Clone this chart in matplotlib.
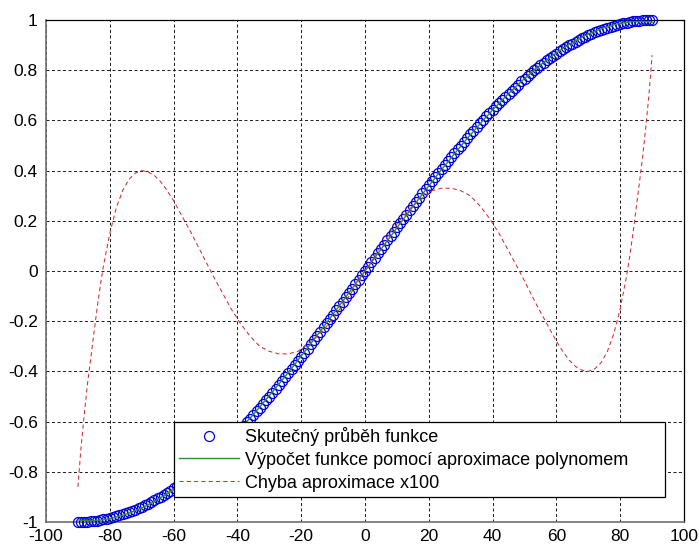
import numpy as np
import matplotlib.pyplot as plt

plt.rcParams['font.family'] = ['Liberation Sans', 'DejaVu Sans']
plt.rcParams['axes.unicode_minus'] = False

# angle in degrees, sampled every degree
uhel = np.arange(-90, 91)

# real function values
skutecny = np.array([
    -1.000, -1.000, -0.999, -0.999, -0.998, -0.996, -0.995, -0.993, -0.990, -0.988,
    -0.985, -0.982, -0.978, -0.974, -0.970, -0.966, -0.961, -0.956, -0.951, -0.946,
    -0.940, -0.934, -0.927, -0.921, -0.914, -0.906, -0.899, -0.891, -0.883, -0.875,
    -0.866, -0.857, -0.848, -0.839, -0.829, -0.819, -0.809, -0.799, -0.788, -0.777,
    -0.766, -0.755, -0.743, -0.731, -0.719, -0.707, -0.695, -0.682, -0.669, -0.656,
    -0.643, -0.629, -0.616, -0.602, -0.588, -0.574, -0.559, -0.545, -0.530, -0.515,
    -0.500, -0.485, -0.469, -0.454, -0.438, -0.423, -0.407, -0.391, -0.375, -0.358,
    -0.342, -0.326, -0.309, -0.292, -0.276, -0.259, -0.242, -0.225, -0.208, -0.191,
    -0.174, -0.156, -0.139, -0.122, -0.105, -0.087, -0.070, -0.052, -0.035, -0.017,
    0.000,
    0.017, 0.035, 0.052, 0.070, 0.087, 0.105, 0.122, 0.139, 0.156, 0.174,
    0.191, 0.208, 0.225, 0.242, 0.259, 0.276, 0.292, 0.309, 0.326, 0.342,
    0.358, 0.375, 0.391, 0.407, 0.423, 0.438, 0.454, 0.469, 0.485, 0.500,
    0.515, 0.530, 0.545, 0.559, 0.574, 0.588, 0.602, 0.616, 0.629, 0.643,
    0.656, 0.669, 0.682, 0.695, 0.707, 0.719, 0.731, 0.743, 0.755, 0.766,
    0.777, 0.788, 0.799, 0.809, 0.819, 0.829, 0.839, 0.848, 0.857, 0.866,
    0.875, 0.883, 0.891, 0.899, 0.906, 0.914, 0.921, 0.927, 0.934, 0.940,
    0.946, 0.951, 0.956, 0.961, 0.966, 0.970, 0.974, 0.978, 0.982, 0.985,
    0.988, 0.990, 0.993, 0.995, 0.996, 0.998, 0.999, 0.999, 1.000, 1.000,
])

# approximation error (times 100)
uhel_chyba = [-90, -89, -88, -87, -86, -85, -84, -83, -82, -80, -78, -76, -74,
              -72, -70, -68, -66, -64, -62, -60, -57, -54, -51, -48, -45, -42,
              -39, -36, -33, -30, -27, -24, -21, -18, -15, -12, -9, -6, -3, 0,
              3, 6, 9, 12, 15, 18, 21, 24, 27, 30, 33, 36, 39, 42, 45, 48, 51,
              54, 57, 60, 62, 64, 66, 68, 70, 72, 74, 76, 78, 80, 82, 83, 84,
              85, 86, 87, 88, 89, 90]
chyba = [-0.86, -0.70, -0.57, -0.45, -0.35, -0.25, -0.15, -0.06, 0.02, 0.15,
         0.25, 0.32, 0.365, 0.39, 0.40, 0.395, 0.38, 0.355, 0.32, 0.28, 0.21,
         0.14, 0.065, -0.01, -0.08, -0.15, -0.21, -0.26, -0.30, -0.32, -0.33,
         -0.33, -0.32, -0.29, -0.26, -0.22, -0.17, -0.12, -0.06, 0.00,
         0.06, 0.12, 0.17, 0.22, 0.26, 0.29, 0.32, 0.33, 0.33, 0.32, 0.30,
         0.26, 0.21, 0.15, 0.08, 0.01, -0.065, -0.14, -0.21, -0.28, -0.32,
         -0.355, -0.38, -0.395, -0.40, -0.39, -0.365, -0.32, -0.25, -0.15,
         -0.02, 0.06, 0.15, 0.25, 0.35, 0.45, 0.57, 0.70, 0.86]

# polynomial approximation = real value minus the error
aproximace = skutecny - np.interp(uhel, uhel_chyba, chyba) / 100.0

fig = plt.figure(figsize=(6.99, 5.47), dpi=100)
ax = fig.add_axes([46 / 699, 1 - 522 / 547, 638 / 699, 502 / 547])

ax.plot(uhel, skutecny, 'o', mfc='none', mec='#0000e0', ms=7.2, mew=0.9,
        clip_on=False, label='Skutečný průběh funkce', zorder=3)
ax.plot(uhel, aproximace, '-', color='#2e8b2e', lw=1.0,
        label='Výpočet funkce pomocí aproximace polynomem', zorder=4)
ax.plot(uhel_chyba, chyba, color='#d03030', lw=0.75, ls=(0, (4, 3)),
        label='Chyba aproximace x100', zorder=5)

ax.set_xlim(-100, 100)
ax.set_ylim(-1, 1)
ax.set_xticks(np.arange(-100, 101, 20))
ax.set_yticks(np.round(np.arange(-1, 1.01, 0.2), 1))
ax.set_yticklabels(['-1', '-0.8', '-0.6', '-0.4', '-0.2', '0', '0.2', '0.4',
                    '0.6', '0.8', '1'])
ax.grid(True, color='#222222', lw=0.72, ls=(0, (3, 2.5)))
ax.tick_params(direction='in', length=0, labelsize=12.5, pad=6)
ax.tick_params(axis='x', pad=5)

for side in ('left', 'bottom'):
    ax.spines[side].set_color('#707070')
    ax.spines[side].set_linewidth(1.2)
for side in ('top', 'right'):
    ax.spines[side].set_color('black')
    ax.spines[side].set_linewidth(0.9)

leg = ax.legend(loc='lower left', bbox_to_anchor=(0.2006, 0.0498, 0.7696, 0.153),
                mode='expand', fontsize=13, handlelength=3.3, handletextpad=0.35,
                labelspacing=0.32, borderpad=0.3, fancybox=False, framealpha=1,
                edgecolor='black', borderaxespad=0)
leg.get_frame().set_linewidth(0.9)

fig.savefig('out.png', dpi=100)
